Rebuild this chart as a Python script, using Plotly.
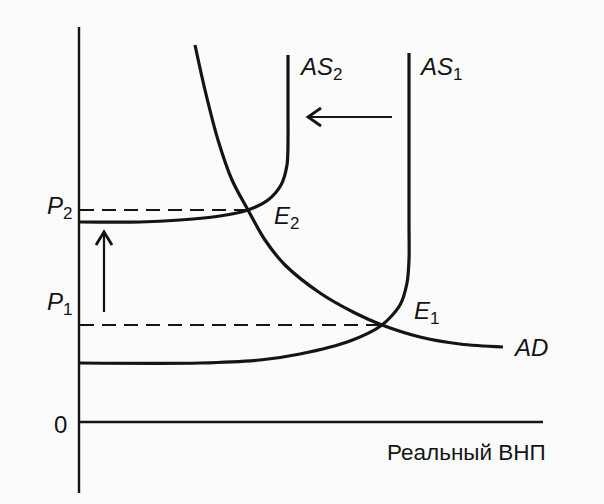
import plotly.graph_objects as go

# Coordinates: real GNP on x, price level on y (origin at the axes' crossing)

# Aggregate supply before the shift (AS1): flat Keynesian segment, rising part, vertical classical segment
as1_output = [1, 121, 181, 221, 271, 303, 321, 328, 330, 330, 330]
as1_price = [59, 59, 62, 68, 81, 97, 117, 139, 162, 200, 369]

# Aggregate supply after the shift (AS2)
as2_output = [1, 61, 101, 141, 169, 189, 202, 208, 209, 209, 209]
as2_price = [200, 200, 202, 206, 212, 222, 237, 257, 279, 310, 367]

# Aggregate demand (AD)
ad_output = [116, 126, 139, 153, 169, 186, 206, 241, 276, 303, 341, 381, 424]
ad_price = [377, 332, 282, 242, 212, 182, 157, 129, 109, 97, 85, 78, 75]

# Equilibria
e1 = (303, 97)
e2 = (169, 212)

# Axis extents
x_axis_end = 464
y_axis_top = 395
y_axis_bottom = -71

# Shift arrows: (start, tip)
price_arrow = ((25, 110), (25, 190))
supply_arrow = ((313, 305), (229, 305))

INK = "#141414"
FONT = "Liberation Sans, Arial, sans-serif"

fig = go.Figure()


def line(x, y, width=3, dash=None, shape="linear", smoothing=None):
    ln = dict(color=INK, width=width, shape=shape)
    if dash:
        ln["dash"] = dash
    if smoothing is not None:
        ln["smoothing"] = smoothing
    fig.add_trace(go.Scatter(x=x, y=y, mode="lines", line=ln,
                             hoverinfo="skip", showlegend=False))


# Axes
line([0, 0], [y_axis_bottom, y_axis_top], width=2.4)
line([0, x_axis_end], [0, 0], width=2.4)

# Dashed price guides to the equilibria
line([1, e2[0]], [e2[1], e2[1]], width=2.2, dash="14px,8px")
line([1, e1[0]], [e1[1], e1[1]], width=2.2, dash="14px,8px")

# Curves
line(as1_output, as1_price, width=3.2, shape="spline", smoothing=0.8)
line(as2_output, as2_price, width=3.2, shape="spline", smoothing=0.8)
line(ad_output, ad_price, width=3.2, shape="spline", smoothing=0.9)


def arrow(start, tip):
    (x0, y0), (x1, y1) = start, tip
    line([x0, x1], [y0, y1], width=2.2)
    if x0 == x1:  # vertical arrow
        s = 1 if y1 > y0 else -1
        line([x1 - 8, x1, x1 + 8], [y1 - 13 * s, y1, y1 - 13 * s], width=2.8)
    else:  # horizontal arrow
        s = 1 if x1 > x0 else -1
        line([x1 - 13 * s, x1, x1 - 13 * s], [y1 + 9, y1, y1 - 9], width=2.8)


arrow(*price_arrow)
arrow(*supply_arrow)


def sub(s):
    return f"<sub><span style='font-size:17px'>{s}</span></sub>"


labels = [
    ("<i>AS</i>" + sub("2"), 218, 354, "left", 24),
    ("<i>AS</i>" + sub("1"), 338, 354, "left", 24),
    ("<i>E</i>" + sub("2"), 193, 205, "left", 24),
    ("<i>E</i>" + sub("1"), 333, 110, "left", 24),
    ("<i>AD</i>", 432, 75, "left", 24),
    ("<i>P</i>" + sub("2"), -5, 215, "right", 24),
    ("<i>P</i>" + sub("1"), -5, 119, "right", 24),
    ("0", -10, -2, "right", 24),
    ("Реальный ВНП", 469, -30, "right", 22.5),
]
for text, x, y, anchor, size in labels:
    fig.add_annotation(x=x, y=y, text=text, showarrow=False, xanchor=anchor,
                       yanchor="middle", font=dict(family=FONT, size=size, color=INK))

fig.update_layout(
    width=604, height=504,
    margin=dict(l=0, r=0, t=0, b=0),
    paper_bgcolor="#fbfbfb", plot_bgcolor="#fbfbfb",
    xaxis=dict(range=[-79, 525], visible=False, fixedrange=True),
    yaxis=dict(range=[-82, 422], visible=False, fixedrange=True),
    hovermode=False,
)

fig.write_html("out.html")
